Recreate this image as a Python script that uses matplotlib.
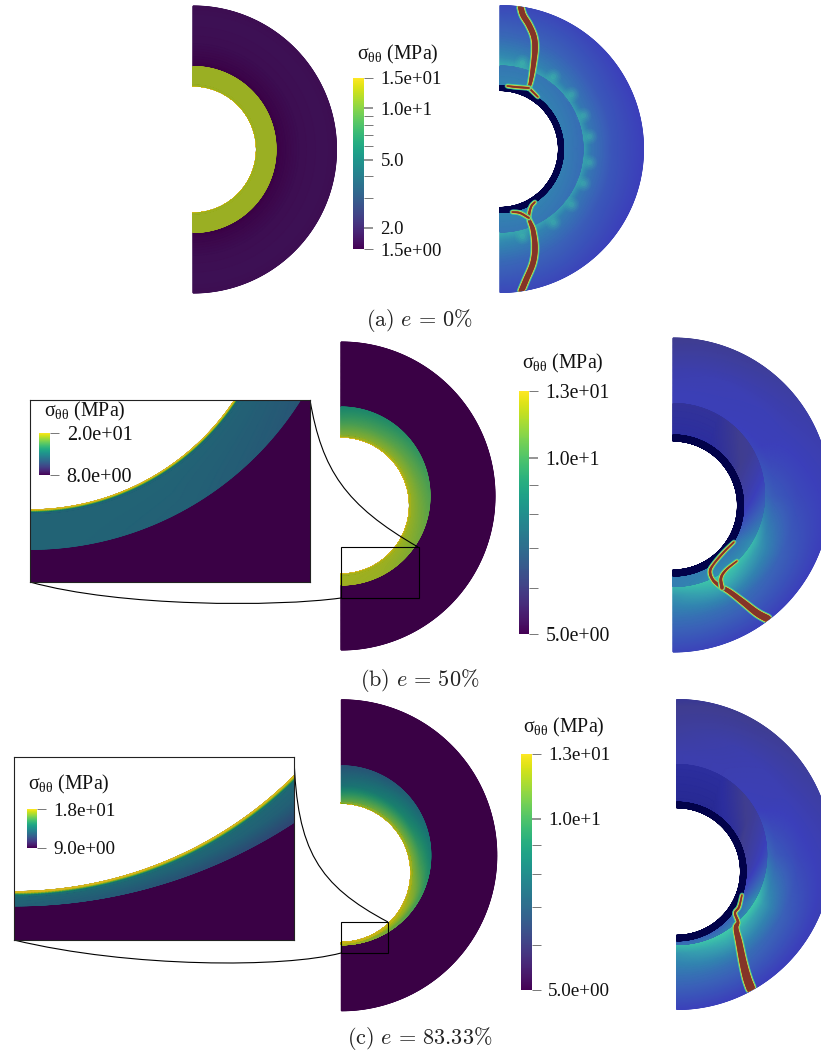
#plot.py
import numpy as np
import matplotlib
matplotlib.use("Agg")
import matplotlib.pyplot as plt
from matplotlib.cm import ScalarMappable
from matplotlib.collections import LineCollection
from matplotlib.colors import LinearSegmentedColormap, ListedColormap, LogNorm, Normalize
from matplotlib.patches import Circle, PathPatch, Rectangle
from matplotlib.path import Path

LARGEUR, HAUTEUR = 821, 1053

plt.rcParams["mathtext.fontset"] = "custom"
plt.rcParams["mathtext.rm"] = "Liberation Serif"
plt.rcParams["mathtext.it"] = "Liberation Serif:italic"

#valeurs : contrainte (MPa) selon l'angle et la position dans la couche
angles = [-90, -60, -30, 0, 30, 60, 90]

s_exterieur_gauche = [0, 1]
val_exterieur_b = [[3, 3, 3, 3, 3, 3, 3], [3, 3, 3, 3, 3, 3, 3]]
val_exterieur_c = [[3, 3, 3, 3, 3, 3, 3], [3, 3, 3, 3, 3, 3, 3]]

s_exterieur_a = [0, 0.1, 0.4, 0.8, 1]
val_exterieur_a = [[1.5] * 7, [1.56] * 7, [1.66] * 7, [1.7] * 7, [1.66] * 7]

s_anneau_a = [0, 1]
val_anneau_a = [[11.6] * 7, [11.6] * 7]
liser_a = [15] * 7

s_anneau_b = [0, 0.5, 1]
val_anneau_b = [[11.8, 11.8, 11.8, 11.8, 11.8, 11.7, 11.5],
                [11.8, 11.7, 11.4, 11.0, 10.6, 10.2, 10.0],
                [11.8, 11.6, 11.0, 10.3, 9.6, 9.1, 8.8]]
liser_b = [20] * 7

s_anneau_c = [0, 0.5, 1]
val_anneau_c = [[12.5, 12.5, 12.2, 11.8, 11.6, 11.4, 11.0],
                [12.2, 12.0, 11.5, 10.0, 9.0, 8.4, 8.0],
                [12.0, 11.0, 10.0, 8.6, 7.6, 7.1, 6.9]]
liser_c = [18] * 7

#champ de droite (echelle sans unite de la palette fissure)
s_droite_ext = [0, 0.15, 0.5, 1]
champ_ext_a = [[0.58, 0.56, 0.56, 0.56, 0.56, 0.56, 0.58],
               [0.50, 0.47, 0.44, 0.44, 0.44, 0.47, 0.50],
               [0.40, 0.38, 0.35, 0.34, 0.35, 0.38, 0.40],
               [0.31, 0.30, 0.28, 0.28, 0.28, 0.30, 0.31]]
champ_ext_b = [[0.60, 0.66, 0.62, 0.40, 0.30, 0.27, 0.27],
               [0.52, 0.60, 0.52, 0.36, 0.28, 0.27, 0.27],
               [0.42, 0.42, 0.38, 0.31, 0.27, 0.26, 0.24],
               [0.30, 0.29, 0.28, 0.27, 0.23, 0.18, 0.16]]
champ_ext_c = [[0.62, 0.66, 0.66, 0.42, 0.28, 0.25, 0.24],
               [0.52, 0.58, 0.54, 0.36, 0.27, 0.25, 0.24],
               [0.42, 0.42, 0.38, 0.30, 0.26, 0.24, 0.20],
               [0.29, 0.28, 0.27, 0.25, 0.20, 0.16, 0.15]]

s_droite_anneau = [0, 1]
champ_anneau_a = [[0.48, 0.48, 0.47, 0.46, 0.47, 0.48, 0.48],
                  [0.44, 0.44, 0.42, 0.41, 0.42, 0.44, 0.44]]
champ_anneau_b = [[0.46, 0.46, 0.42, 0.25, 0.15, 0.13, 0.13],
                  [0.46, 0.50, 0.50, 0.34, 0.18, 0.14, 0.14]]
champ_anneau_c = [[0.38, 0.36, 0.38, 0.22, 0.14, 0.12, 0.12],
                  [0.42, 0.44, 0.50, 0.32, 0.18, 0.13, 0.13]]

#points clairs autour de l'anneau, figure (a)
angles_points_a = [76, 54, 38, 22, 8, -8, -22, -38, -54, -76]

#fissures : x, y sur l'image et largeur en pixels
fissures_a = [
    ([520.5, 523, 529, 534, 535, 533, 531, 529], [6, 15, 25, 37, 50, 68, 80, 88], [5, 5, 5, 5, 5, 4, 3, 2]),
    ([529, 538], [88, 97], [1.5, 1]),
    ([529, 516, 507], [88, 87, 86], [1.5, 1.5, 1]),
    ([521, 526, 533, 535, 533, 529, 531, 535], [292, 280, 263, 247, 230, 218, 207, 202], [5, 5, 5, 5, 4, 2, 1.5, 1]),
    ([529, 520, 512], [218, 213, 212], [1.5, 1.5, 1]),
]
fissures_b = [
    ([768, 757, 743, 730, 720, 713, 710, 713, 723, 734],
     [619, 613, 602, 592, 586, 580, 572, 565, 553, 542],
     [6.5, 6, 5, 4, 3, 2, 2, 1.5, 1.5, 1]),
    ([722, 721, 726, 737], [588, 578, 570, 561], [3, 2, 1.5, 1]),
]
fissures_c = [
    ([751, 747, 743, 739, 736, 738, 735, 739, 742],
     [989, 978, 962, 942, 928, 922, 913, 907, 895],
     [8, 7.5, 6.5, 5.5, 4, 2, 1.5, 1.5, 1]),
]

#barres de couleur
ticks_a = [15, 10, 5, 2, 1.5]
labels_a = ["1.5e+01", "1.0e+1", "5.0", "2.0", "1.5e+00"]
mineurs_a = [9, 8, 7, 6, 4, 3]
ticks_bc = [13, 10, 5]
labels_bc = ["1.3e+01", "1.0e+1", "5.0e+00"]
mineurs_bc = [9, 8, 7, 6]

#palettes
viridis = plt.cm.viridis(np.linspace(0, 1, 256))[:, :3]
cmap_disque = ListedColormap(viridis * [0.85, 0.79, 0.82])
cmap_fissure = LinearSegmentedColormap.from_list("fissure", [
    (0.00, "#02024a"), (0.10, "#1e2080"), (0.13, "#2c2e9e"), (0.16, "#3f3d90"),
    (0.28, "#3b3fba"), (0.38, "#3a62b8"), (0.48, "#3285b0"), (0.58, "#38b0ae"),
    (0.66, "#40d0a8"), (0.74, "#88d868"), (0.82, "#e0d840"), (0.90, "#d07030"),
    (1.00, "#843428")], N=1024)
norme_fissure = Normalize(0, 1)

fig = plt.figure(figsize=(LARGEUR / 100, HAUTEUR / 100), dpi=100)
ax = fig.add_axes([0, 0, 1, 1])
ax.set_xlim(0, LARGEUR)
ax.set_ylim(HAUTEUR, 0)
ax.axis("off")


def axes_pixels(x0, y0, x1, y1):
    return fig.add_axes([x0 / LARGEUR, 1 - y1 / HAUTEUR, (x1 - x0) / LARGEUR, (y1 - y0) / HAUTEUR])


def couche(axe, x0, cy_in, r_in, cy_out, r_out, s_noeuds, table, cmap, norme):
    """
    dessine une couche entre deux demi cercles (centres sur x0, eventuellement decales)
    """
    th = np.linspace(-90, 90, 361)
    s = np.linspace(0, 1, 121)
    table = np.array(table, dtype=float)
    par_angle = np.array([np.interp(th, angles, ligne) for ligne in table])
    champ = np.array([np.interp(s, s_noeuds, par_angle[:, j]) for j in range(len(th))]).T
    rad = np.radians(th)
    S, C = np.meshgrid(s, np.cos(rad), indexing="ij")
    _, D = np.meshgrid(s, np.sin(rad), indexing="ij")
    X = x0 + ((1 - S) * r_in + S * r_out) * C
    Y = (1 - S) * (cy_in - r_in * D) + S * (cy_out - r_out * D)
    axe.pcolormesh(X, Y, champ, cmap=cmap, norm=norme, shading="gouraud", rasterized=True)


def disque_gauche(axe, x0, cy, R, r_anneau, cy_trou, r_trou, e_liser, liser, s_anneau, val_anneau, val_ext, s_ext, norme):
    couche(axe, x0, cy, r_anneau, cy, R, s_ext, val_ext, cmap_disque, norme)
    couche(axe, x0, cy_trou, r_trou, cy, r_anneau, s_anneau, val_anneau, cmap_disque, norme)
    #fin liseré jaune sur le bord du trou
    couche(axe, x0, cy_trou, r_trou, cy_trou, r_trou + e_liser, [0, 0.4, 1], [liser, liser, val_anneau[0]], cmap_disque, norme)


def lisser(x, y, w):
    """
    courbe de catmull-rom passant par les points relevés, pour eviter les angles du trait
    """
    pts = np.column_stack([x, y]).astype(float)
    pts = np.vstack([2 * pts[0] - pts[1], pts, 2 * pts[-1] - pts[-2]])
    res = []
    larg = []
    u = np.linspace(0, 1, 12, endpoint=False)[:, None]
    for i in range(1, len(pts) - 2):
        p0, p1, p2, p3 = pts[i - 1], pts[i], pts[i + 1], pts[i + 2]
        res.append(0.5 * (2 * p1 + (p2 - p0) * u + (2 * p0 - 5 * p1 + 4 * p2 - p3) * u ** 2
                          + (3 * p1 - p0 - 3 * p2 + p3) * u ** 3))
        larg.append(w[i - 1] + (w[i] - w[i - 1]) * u[:, 0])
    return np.vstack(res + [pts[-2:-1]]), np.concatenate(larg)


def disque_droite(x0, cy, R, r_anneau, cy_trou, r_trou, r_liner, champ_ext, champ_anneau, fissures):
    couche(ax, x0, cy, r_anneau, cy, R, s_droite_ext, champ_ext, cmap_fissure, norme_fissure)
    couche(ax, x0, cy_trou, r_liner, cy, r_anneau, s_droite_anneau, champ_anneau, cmap_fissure, norme_fissure)
    couche(ax, x0, cy_trou, r_trou, cy_trou, r_liner, [0, 1], [[0] * 7, [0] * 7], cmap_fissure, norme_fissure)
    bord = Circle((x0, cy), R, transform=ax.transData)
    for x, y, w in fissures:
        pts, larg = lisser(x, y, w)
        segments = np.stack([pts[:-1], pts[1:]], axis=1)
        #halo puis bord jaune puis coeur brun
        for extra, coul, alpha in [(4.0, "#40c8a8", 0.5), (2.6, "#70d878", 0.9), (1.5, "#d8d448", 1),
                                   (0.6, "#b86030", 1), (0.0, "#843428", 1)]:
            lc = LineCollection(segments, linewidths=(larg + extra) * 0.72, colors=coul, alpha=alpha,
                                capstyle="round", zorder=5)
            ax.add_collection(lc)
            lc.set_clip_path(bord)


def barre(x0, y0, x1, y1, norme, ticks, labels, mineurs, taille, clairs=()):
    cax = axes_pixels(x0, y0, x1, y1)
    cb = fig.colorbar(ScalarMappable(norm=norme, cmap="viridis"), cax=cax)
    cb.outline.set_visible(False)
    cb.set_ticks(ticks, labels=labels)
    cax.yaxis.set_ticks(mineurs, minor=True)
    cax.yaxis.set_ticklabels([""] * len(mineurs), minor=True)
    cax.tick_params(which="both", length=6.8, width=0.7, color="#777777", pad=5, labelsize=taille)
    for t in cax.get_yticklabels():
        t.set_family("Liberation Serif")
        t.set_color("#111111")
    for t, val in zip(cax.yaxis.get_major_ticks(), ticks):
        if val in clairs:
            t.tick2line.set_color("#bbbbbb")
            t.tick2line.set_markeredgewidth(1.1)


def titre_barre(x, y, taille=14.3):
    fig.text(x / LARGEUR, 1 - y / HAUTEUR, "$\\mathrm{σ}_{\\mathrm{θθ}}$ (MPa)", family="Liberation Serif",
             fontsize=taille, color="#111111", ha="left", va="center")


def courbe(p0, c1, c2, p3):
    chemin = Path([p0, c1, c2, p3], [Path.MOVETO, Path.CURVE4, Path.CURVE4, Path.CURVE4])
    ax.add_patch(PathPatch(chemin, fill=False, edgecolor="black", linewidth=0.8, zorder=6))


def zoom_cadre(x0, y0, x1, y1, xlim, ylim):
    axe = axes_pixels(x0, y0, x1, y1)
    axe.set_xlim(*xlim)
    axe.set_ylim(*ylim)
    axe.set_xticks([])
    axe.set_yticks([])
    for bord in axe.spines.values():
        bord.set_linewidth(0.8)
        bord.set_color("#222222")
    return axe


def legende(x, y, texte):
    fig.text(x / LARGEUR, 1 - y / HAUTEUR, texte, fontsize=16, math_fontfamily="cm", ha="center", va="center",
             color="#222222")


#figure (a)
norme_a = LogNorm(1.5, 15)
disque_gauche(ax, 193, 149.5, 143.5, 83, 149.5, 63.5, 0.9, liser_a, s_anneau_a, val_anneau_a, val_exterieur_a, s_exterieur_a, norme_a)
disque_droite(500, 149, 143.5, 83, 149, 58.5, 63.5, champ_ext_a, champ_anneau_a, fissures_a)
#petites taches floues : plusieurs disques tres transparents
for taille_pt, alpha in [(130, 0.07), (80, 0.09), (40, 0.12), (14, 0.15)]:
    ax.scatter(500 + 90 * np.cos(np.radians(angles_points_a)), 149 - 90 * np.sin(np.radians(angles_points_a)),
               s=taille_pt, color="#48d8a8", alpha=alpha, linewidths=0, zorder=3)
titre_barre(357, 54)
barre(353, 78, 364, 249, norme_a, ticks_a, labels_a, mineurs_a, 13.5, clairs=(10, 5, 2))
legende(419.5, 321, "$\\mathrm{(a)}\\ e\\,=\\,0\\%$")

#figure (b)
norme_b = LogNorm(5, 13)
disque_gauche(ax, 341, 496, 154, 89, 505.5, 68.5, 1.0, liser_b, s_anneau_b, val_anneau_b, val_exterieur_b, s_exterieur_gauche, norme_b)
disque_droite(673, 495, 157, 91.5, 505.5, 64.5, 70.5, champ_ext_b, champ_anneau_b, fissures_b)
ax.add_patch(Rectangle((341, 547), 77.5, 51, fill=False, edgecolor="black", linewidth=0.8, zorder=6))
courbe((310, 400), (322, 470), (345, 505), (418, 547))
courbe((30, 582), (120, 607), (276, 607), (341, 598))
zoom_b = zoom_cadre(30, 400, 310, 582, (341, 419), (594.1, 543.4))
disque_gauche(zoom_b, 341, 496, 154, 89, 505.5, 68.5, 1.0, liser_b, s_anneau_b, val_anneau_b, val_exterieur_b, s_exterieur_gauche,
              LogNorm(8, 20))
titre_barre(44, 411)
barre(39.3, 432.7, 50.3, 475, LogNorm(8, 20), [20, 8], ["2.0e+01", "8.0e+00"], [], 14.5)
titre_barre(522, 363)
barre(519, 391, 529, 634, norme_b, ticks_bc, labels_bc, mineurs_bc, 14.2, clairs=(10,))
legende(420, 681, "$\\mathrm{(b)}\\ e\\,=\\,50\\%$")

#figure (c)
norme_c = LogNorm(5, 13)
disque_gauche(ax, 341.3, 855.3, 155.5, 89.5, 872.8, 69.5, 0.8, liser_c, s_anneau_c, val_anneau_c, val_exterieur_c, s_exterieur_gauche, norme_c)
disque_droite(676.7, 854.5, 155, 90, 871.5, 63.8, 69.3, champ_ext_c, champ_anneau_c, fissures_c)
ax.add_patch(Rectangle((341.3, 922.3), 47, 30.4, fill=False, edgecolor="black", linewidth=0.8, zorder=6))
courbe((294, 757), (297, 850), (318, 885), (388, 922))
courbe((14, 940), (130, 968), (285, 968), (341, 953))
zoom_c = zoom_cadre(14, 757.3, 294, 940, (341.3, 390.4), (950.8, 918.7))
disque_gauche(zoom_c, 341.3, 855.3, 155.5, 89.5, 872.8, 69.5, 0.8, liser_c, s_anneau_c, val_anneau_c, val_exterieur_c, s_exterieur_gauche,
              LogNorm(9, 18))
titre_barre(28, 784)
barre(27, 809, 37, 847.7, LogNorm(9, 18), [18, 9], ["1.8e+01", "9.0e+00"], [], 13.8)
titre_barre(523, 727)
barre(521, 753.7, 531.5, 989.7, norme_c, ticks_bc, labels_bc, mineurs_bc, 13.8, clairs=(10,))
legende(420, 1038, "$\\mathrm{(c)}\\ e\\,=\\,83.33\\%$")

fig.savefig("out.png", dpi=100)
